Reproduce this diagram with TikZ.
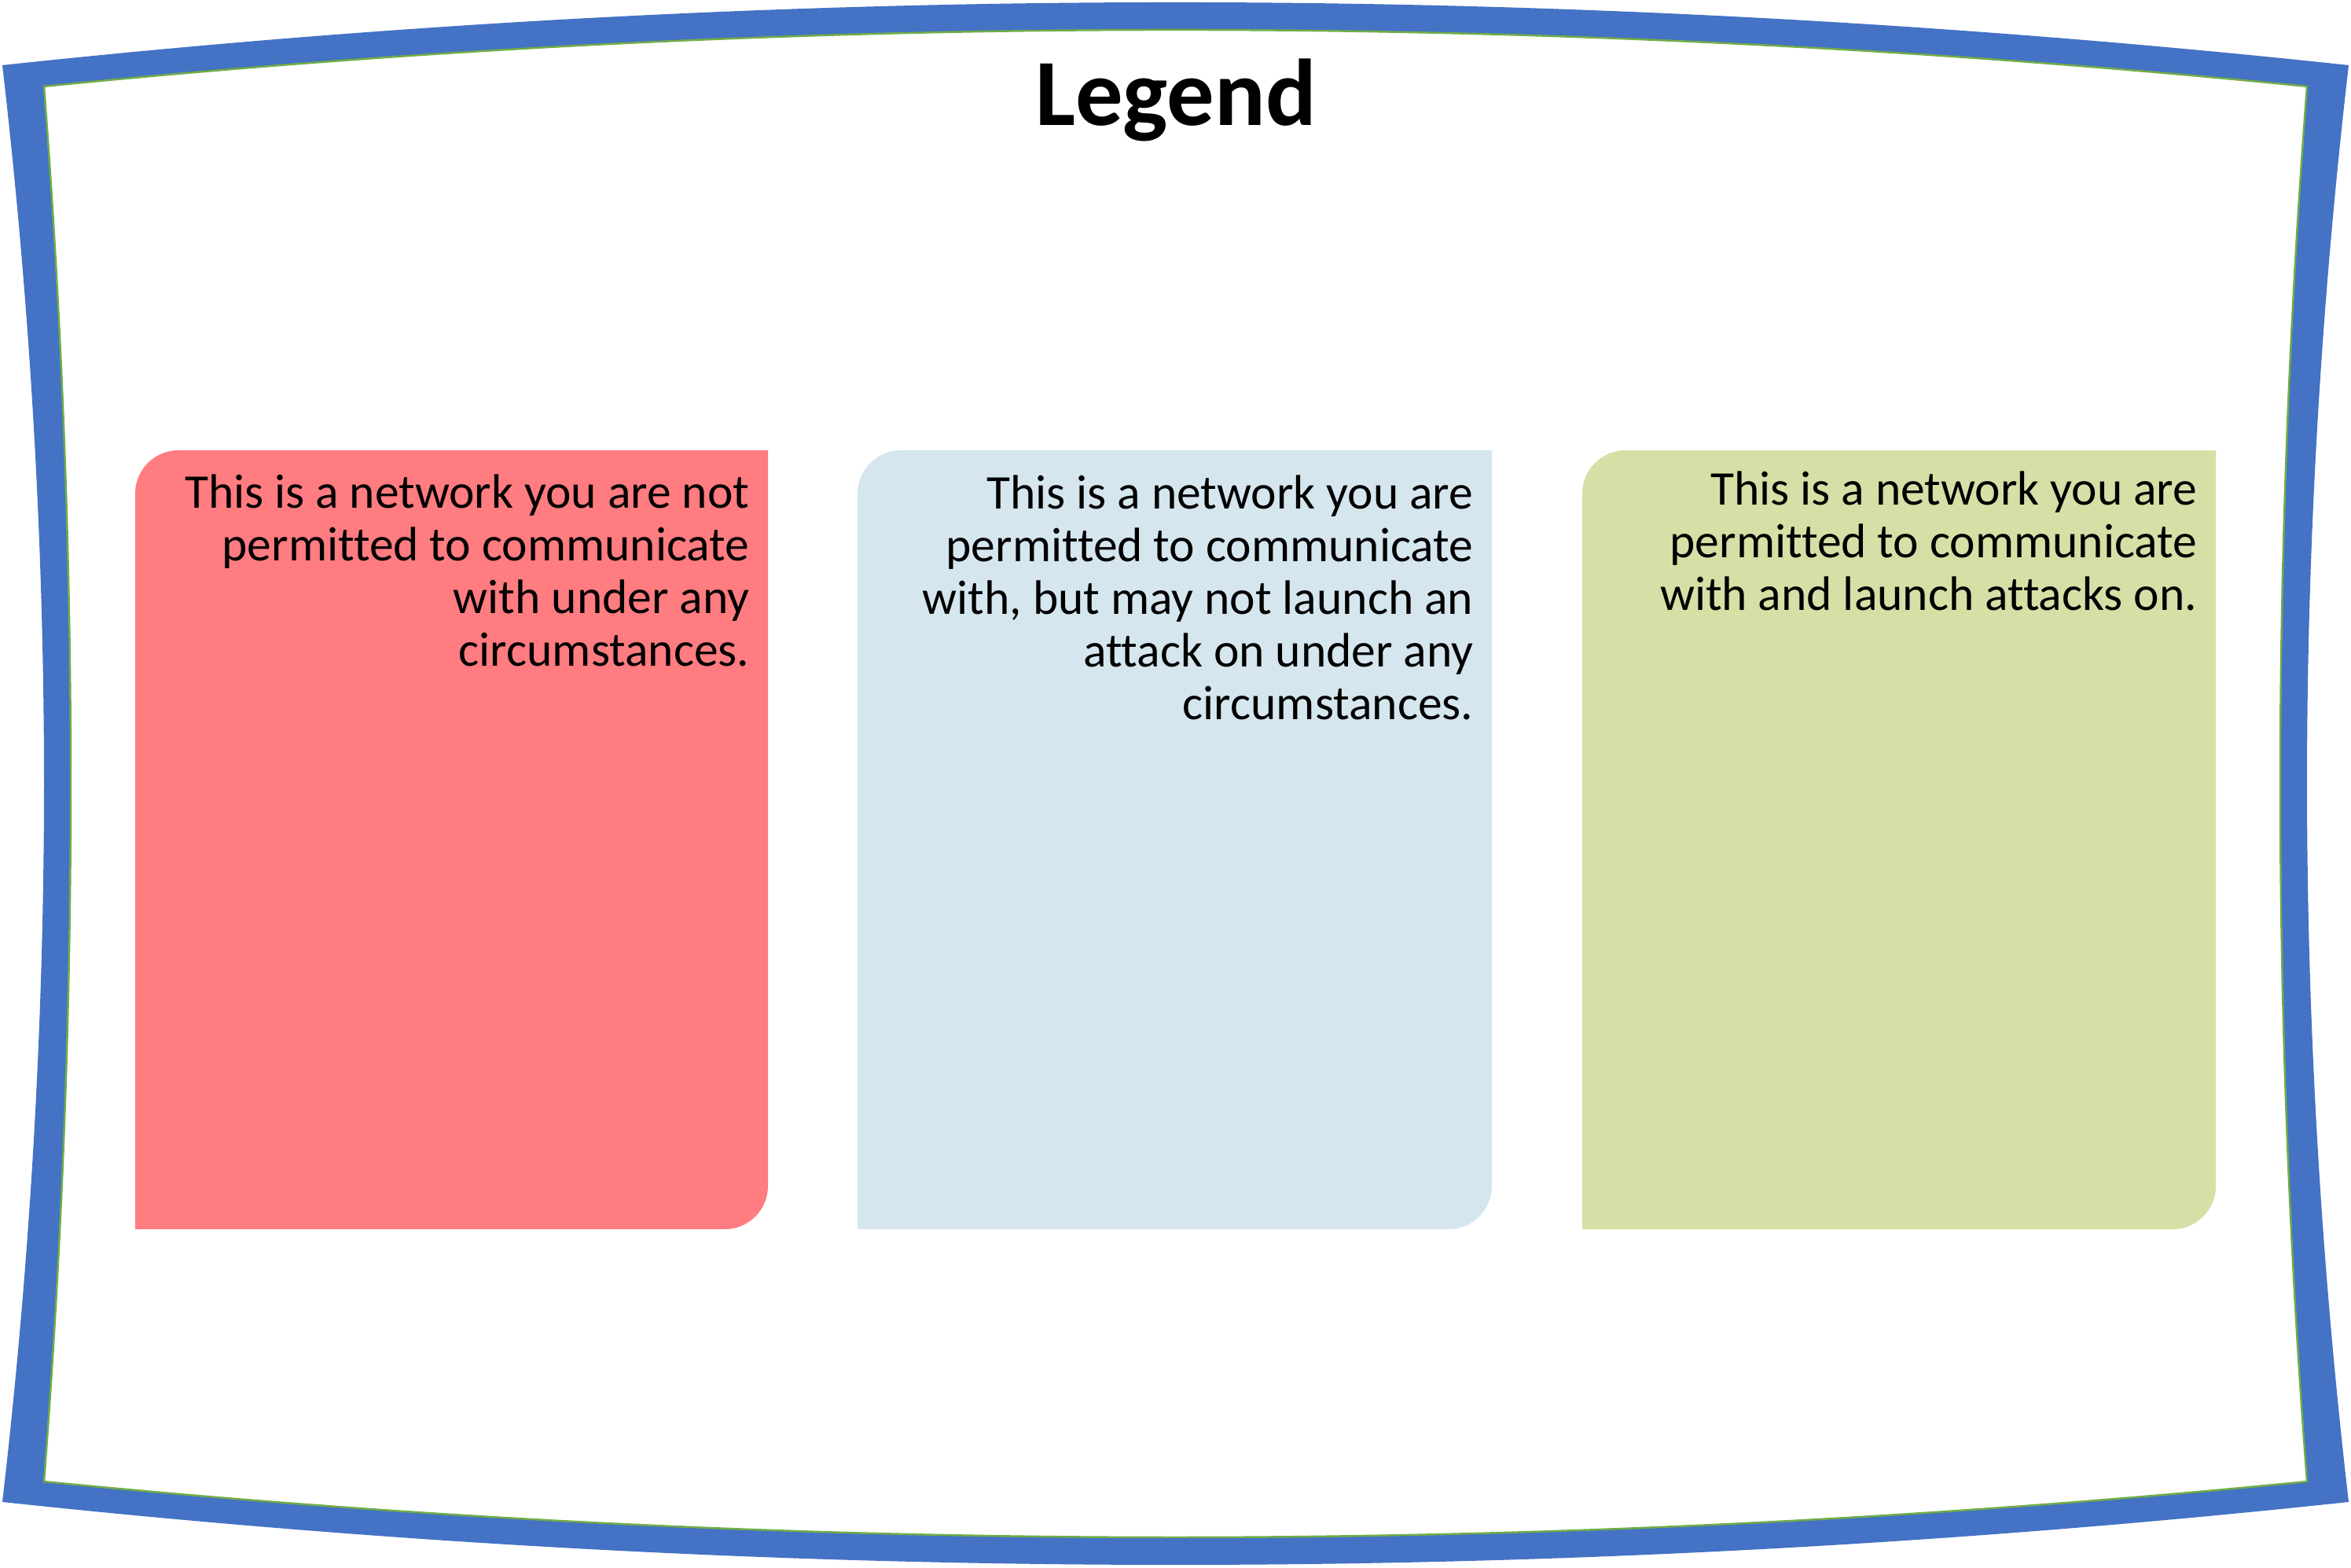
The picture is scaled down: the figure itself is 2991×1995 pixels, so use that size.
\documentclass[tikz,border=0pt]{standalone}
\usepackage{fontspec}
\setmainfont[Ligatures=NoCommon]{Carlito}
\definecolor{framblue}{HTML}{4472C4}
\definecolor{framgreen}{HTML}{70AD47}
\definecolor{redfill}{HTML}{FF7C80}
\definecolor{bluefill}{HTML}{D6E6EE}
\definecolor{greenfill}{HTML}{D4E0A5}
\tikzset{
  boxtext/.style={anchor=base east, align=right, inner sep=0pt, font=\fontsize{17.5}{19.1}\selectfont},
  titletext/.style={anchor=base, inner sep=0pt, font=\fontsize{34.3}{40}\selectfont\bfseries},
}
\begin{document}
\begin{tikzpicture}[x=0.01cm,y=0.01cm]
\useasboundingbox (0,0) rectangle (2991,1995);
\fill[white] (0,0) rectangle (2991,1995);
% frame
\fill[framblue, even odd rule]
  (3,1912) .. controls (998,2018.67) and (1993,2018.67) .. (2988,1912)
  .. controls (2917.33,1302.67) and (2917.33,693.33) .. (2988,84)
  .. controls (1993,-22.67) and (998,-22.67) .. (3,84)
  .. controls (73.67,693.33) and (73.67,1302.67) .. cycle
  (56,1885) .. controls (1015.67,1981) and (1975.33,1981) .. (2935,1885)
  .. controls (2889.67,1293.33) and (2889.67,701.67) .. (2935,110)
  .. controls (1975.33,15.33) and (1015.67,15.33) .. (56,110)
  .. controls (101.33,701.67) and (101.33,1293.33) .. cycle;
\draw[framgreen, line width=0.7pt, line join=miter]
  (56,1885) .. controls (1015.67,1981) and (1975.33,1981) .. (2935,1885)
  .. controls (2889.67,1293.33) and (2889.67,701.67) .. (2935,110)
  .. controls (1975.33,15.33) and (1015.67,15.33) .. (56,110)
  .. controls (101.33,701.67) and (101.33,1293.33) .. cycle;
% boxes
\fill[redfill] (172,431) -- (172,1367) arc[start angle=180,end angle=90,radius=55] -- (977,1422) -- (977,486) arc[start angle=0,end angle=-90,radius=55] -- cycle;
\fill[bluefill] (1091,431) -- (1091,1367) arc[start angle=180,end angle=90,radius=55] -- (1898,1422) -- (1898,486) arc[start angle=0,end angle=-90,radius=55] -- cycle;
\fill[greenfill] (2013,431) -- (2013,1367) arc[start angle=180,end angle=90,radius=55] -- (2819,1422) -- (2819,486) arc[start angle=0,end angle=-90,radius=55] -- cycle;
% texts (base anchor = baseline of last line)
\node[titletext] (title) at (1496,1835) {Legend};
\node[boxtext] (redtext) at (954,1147) {This is a network you are not\\permitted to communicate\\with under any\\circumstances.};
\node[boxtext] (bluetext) at (1875,1079) {This is a network you are\\permitted to communicate\\with, but may not launch an\\attack on under any\\circumstances.};
\node[boxtext] (greentext) at (2796,1218) {This is a network you are\\permitted to communicate\\with and launch attacks on.};
\end{tikzpicture}
\end{document}
